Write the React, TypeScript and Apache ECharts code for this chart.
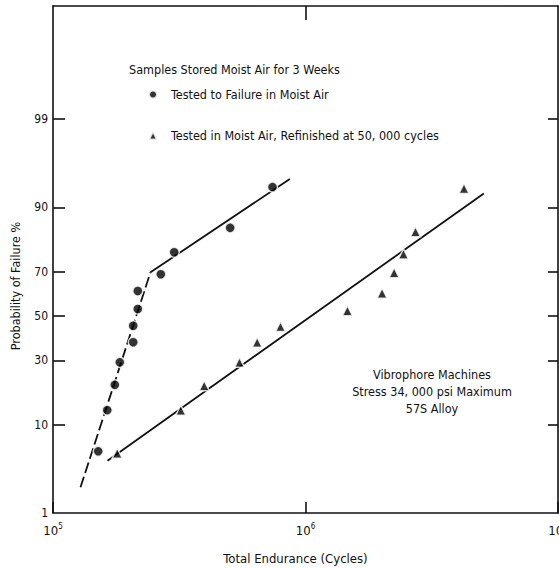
import React, { useEffect, useRef } from "react";
import * as echarts from "echarts";

// ---- data ----
const circleCycles = [151000, 164000, 175700, 183900, 207800, 207800, 216700, 216700, 267300, 302000, 503000, 740000];
const circlePct = [5.5, 13.3, 20.8, 29.2, 37.8, 45.4, 53.3, 61.6, 68.9, 77.4, 85.1, 93.6];

const triCycles = [179600, 320700, 397000, 547700, 643700, 796000, 1466000, 2010000, 2244000, 2443000, 2727000, 4244000];
const triPct = [5.25, 13.3, 20.5, 29.2, 37.8, 45.0, 52.5, 60.6, 69.5, 76.8, 84.0, 93.4];

const circleFitCycles = [128500, 243300, 866700];
const circleFitPct = [2.16, 69.7, 94.7];

const triFitCycles = [164400, 5083000];
const triFitPct = [4.38, 92.6];

const yTickPct = [1, 10, 30, 50, 70, 90, 99];
const xTickValues = [1e5, 1e6, 1e7];

const circleName = "Tested to Failure in Moist Air";
const triName = "Tested in Moist Air, Refinished at 50, 000 cycles";

// inverse normal CDF (probability-paper scale)
function probit(pct: number): number {
  const p = pct / 100;
  const a = [-3.969683028665376e1, 2.209460984245205e2, -2.759285104469687e2, 1.38357751867269e2, -3.066479806614716e1, 2.506628277459239];
  const b = [-5.447609879822406e1, 1.615858368580409e2, -1.556989798598866e2, 6.680131188771972e1, -1.328068155288572e1];
  const c = [-7.784894002430293e-3, -3.223964580411365e-1, -2.400758277161838, -2.549732673576803, 4.374664141464968, 2.938163982698783];
  const d = [7.784695709041462e-3, 3.224671290700398e-1, 2.445134137142996, 3.754408661907416];
  const plow = 0.02425;
  if (p < plow) {
    const q = Math.sqrt(-2 * Math.log(p));
    return (((((c[0] * q + c[1]) * q + c[2]) * q + c[3]) * q + c[4]) * q + c[5]) / ((((d[0] * q + d[1]) * q + d[2]) * q + d[3]) * q + 1);
  }
  if (p <= 1 - plow) {
    const q = p - 0.5;
    const r = q * q;
    return ((((((a[0] * r + a[1]) * r + a[2]) * r + a[3]) * r + a[4]) * r + a[5]) * q) / (((((b[0] * r + b[1]) * r + b[2]) * r + b[3]) * r + b[4]) * r + 1);
  }
  const q = Math.sqrt(-2 * Math.log(1 - p));
  return -(((((c[0] * q + c[1]) * q + c[2]) * q + c[3]) * q + c[4]) * q + c[5]) / ((((d[0] * q + d[1]) * q + d[2]) * q + d[3]) * q + 1);
}

const pairs = (xs: number[], ps: number[]) => xs.map((x, i) => [x, probit(ps[i])]);

const Y_MIN = probit(1);
const Y_MAX = 3.66;
const FONT = "'Liberation Sans Narrow', 'DejaVu Sans Condensed', 'Liberation Sans', sans-serif";
const INK = "#111111";

export default function App() {
  const ref = useRef<HTMLDivElement>(null);
  useEffect(() => {
    if (!ref.current) return;
    const chart = echarts.init(ref.current, undefined, { renderer: "svg" });
    const yTickZ = yTickPct.map(probit);
    const yInnerZ = yTickPct.filter((p) => p !== 1).map(probit);
    const yLabel = (v: number) => {
      for (let i = 0; i < yTickZ.length; i++) if (Math.abs(yTickZ[i] - v) < 1e-6) return String(yTickPct[i]);
      return "";
    };
    const axisLine = { show: true, onZero: false, lineStyle: { color: INK, width: 1.6 } };
    const lineSeries = (data: number[][], dashed: boolean) => ({
      type: "line",
      data,
      symbol: "none",
      silent: true,
      z: 1,
      lineStyle: { color: INK, width: 1.8, type: dashed ? [11, 4] : "solid" },
    });
    chart.setOption({
      animation: false,
      backgroundColor: "#ffffff",
      textStyle: { fontFamily: FONT, color: INK },
      grid: { left: 53, right: 1, top: 6, bottom: 55, containLabel: false, outerBoundsMode: "none" },
      legend: {
        orient: "vertical",
        left: 148,
        top: 88,
        padding: 0,
        itemWidth: 8,
        itemHeight: 8,
        itemGap: 28,
        data: [circleName, triName],
        textStyle: { fontFamily: FONT, fontSize: 12.5, color: INK, padding: [0, 0, 0, 9] },
        selectedMode: false,
      },
      xAxis: [
        {
          type: "log",
          logBase: 10,
          min: 1e5,
          max: 1e7,
          position: "bottom",
          axisLine,
          axisTick: { show: true, inside: true, length: 11, lineStyle: { color: INK, width: 1.6 }, customValues: xTickValues },
          axisLabel: {
            margin: 9,
            customValues: xTickValues,
            formatter: (v: number) => `{b|10}{s|${Math.round(Math.log10(v))}}`,
            rich: {
              b: { fontFamily: FONT, fontSize: 13, color: INK },
              s: { fontFamily: FONT, fontSize: 8, color: INK, padding: [0, 0, 9, 0] },
            },
          },
          splitLine: { show: false },
          minorTick: { show: false },
          name: "Total Endurance (Cycles)",
          nameLocation: "middle",
          nameGap: 39,
          nameTextStyle: { fontFamily: FONT, fontSize: 13, color: INK, padding: [0, 20, 0, 0] },
        },
        {
          type: "log",
          logBase: 10,
          min: 1e5,
          max: 1e7,
          position: "top",
          axisLine,
          axisTick: { show: true, inside: true, length: 14, lineStyle: { color: INK, width: 1.6 }, customValues: [1e6] },
          axisLabel: { show: false },
          splitLine: { show: false },
        },
      ],
      yAxis: [
        {
          type: "value",
          min: Y_MIN,
          max: Y_MAX,
          position: "left",
          axisLine,
          axisTick: { show: true, inside: true, length: 12, lineStyle: { color: INK, width: 1.6 }, customValues: yInnerZ },
          axisLabel: { margin: 5, fontFamily: FONT, fontSize: 12, color: INK, customValues: yTickZ, formatter: yLabel },
          splitLine: { show: false },
        },
        {
          type: "value",
          min: Y_MIN,
          max: Y_MAX,
          position: "right",
          axisLine,
          axisTick: { show: true, inside: true, length: 10, lineStyle: { color: INK, width: 1.6 }, customValues: yInnerZ },
          axisLabel: { show: false },
          splitLine: { show: false },
        },
      ],
      graphic: [
        {
          type: "text",
          x: 15,
          y: 286,
          rotation: Math.PI / 2,
          style: {
            text: "Probability of Failure %",
            fontFamily: FONT,
            fontSize: 12.5,
            fill: INK,
            align: "center",
            verticalAlign: "middle",
          },
        },
        {
          type: "text",
          x: 129,
          y: 69,
          style: { text: "Samples Stored Moist Air for 3 Weeks", fontFamily: FONT, fontSize: 12.5, fill: INK, verticalAlign: "middle" },
        },
        {
          type: "text",
          x: 432,
          y: 366,
          style: {
            text: "Vibrophore Machines\nStress 34, 000 psi Maximum\n57S Alloy",
            fontFamily: FONT,
            fontSize: 12.5,
            lineHeight: 17,
            fill: INK,
            align: "center",
            verticalAlign: "top",
          },
        },
      ],
      series: [
        lineSeries(pairs(circleFitCycles.slice(0, 2), circleFitPct.slice(0, 2)), true),
        lineSeries(pairs(circleFitCycles.slice(1), circleFitPct.slice(1)), false),
        lineSeries(pairs(triFitCycles, triFitPct), false),
        {
          name: circleName,
          type: "scatter",
          data: pairs(circleCycles, circlePct),
          symbol: "circle",
          symbolSize: 10,
          z: 3,
          itemStyle: { color: "#000000", borderColor: "#ffffff", borderWidth: 1.5 },
        },
        {
          name: triName,
          type: "scatter",
          data: pairs(triCycles, triPct),
          symbol: "triangle",
          symbolSize: 10,
          z: 3,
          itemStyle: { color: "#000000", borderColor: "#ffffff", borderWidth: 1.5 },
        },
      ],
    });
    return () => chart.dispose();
  }, []);
  return <div ref={ref} style={{ position: "fixed", left: 0, top: 0, width: 559, height: 568 }} />;
}
